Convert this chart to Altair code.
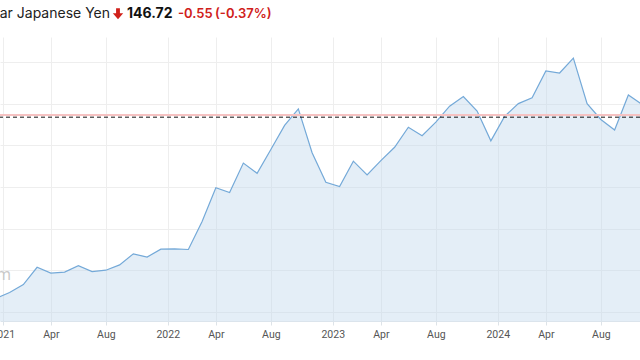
import altair as alt
import pandas as pd

# ---- data (monthly closes, USD/JPY) ----
months = [
    "2020-12",
    "2021-01", "2021-02", "2021-03", "2021-04", "2021-05", "2021-06",
    "2021-07", "2021-08", "2021-09", "2021-10", "2021-11", "2021-12",
    "2022-01", "2022-02", "2022-03", "2022-04", "2022-05", "2022-06",
    "2022-07", "2022-08", "2022-09", "2022-10", "2022-11", "2022-12",
    "2023-01", "2023-02", "2023-03", "2023-04", "2023-05", "2023-06",
    "2023-07", "2023-08", "2023-09", "2023-10", "2023-11", "2023-12",
    "2024-01", "2024-02", "2024-03", "2024-04", "2024-05", "2024-06",
    "2024-07", "2024-08", "2024-09", "2024-10", "2024-11",
]
closes = [
    103.25,
    104.68, 106.58, 110.72, 109.31, 109.58, 111.10,
    109.69, 110.02, 111.29, 113.95, 113.17, 115.08,
    115.12, 114.99, 121.70, 129.80, 128.67, 135.72,
    133.27, 138.96, 144.74, 148.71, 138.20, 131.12,
    130.09, 136.17, 132.86, 136.30, 139.50, 144.31,
    142.29, 145.54, 149.37, 151.68, 148.20, 141.04,
    146.92, 149.98, 151.35, 157.80, 157.31, 160.88,
    149.98, 146.17, 143.63, 152.03, 149.76,
]

title_name = "U.S. Dollar Japanese Yen"
last_price = 146.72
prev_close = 147.27
change_text = "-0.55"
change_pct_text = "(-0.37%)"
watermark_text = "tradingeconomics.com"

tick_pos = [-0.5, 3, 7, 11.5, 15, 19, 23.5, 27, 31, 35.5, 39, 43]
tick_labels = ["2021", "Apr", "Aug", "2022", "Apr", "Aug",
               "2023", "Apr", "Aug", "2024", "Apr", "Aug"]
grid_levels = [100, 110, 120, 130, 140, 150, 160]


def month_index(m):
    y, mo = m.split("-")
    return (int(y) - 2021) * 12 + int(mo) - 1


df = pd.DataFrame({
    "month": months,
    "idx": [month_index(m) for m in months],
    "close": closes,
})

RED = "#d0201a"
GRID = "#eeeeee"

label_expr = "[{}][indexof([{}], datum.value)]".format(
    ",".join("'%s'" % t for t in tick_labels),
    ",".join(str(p) for p in tick_pos),
)

x_scale = alt.Scale(domain=[-0.698, 45.847], nice=False, zero=False)
y_scale = alt.Scale(domain=[97.84, 165.95], nice=False, zero=False)

x_axis = alt.Axis(
    values=tick_pos, labelExpr=label_expr, title=None,
    grid=True, gridColor=GRID, gridWidth=1,
    ticks=True, tickColor="#dde3e8", tickSize=4,
    domain=True, domainColor="#dbe4ec",
    labelFont="Roboto", labelFontSize=10.5, labelColor="#555555",
    labelPadding=4, labelOverlap=False, labelBound=False, labelFlush=False,
)
y_axis = alt.Axis(
    values=grid_levels, title=None, labels=False, ticks=False, domain=False,
    grid=True, gridColor=GRID, gridWidth=1,
)

base = alt.Chart(df).encode(
    x=alt.X("idx:Q", scale=x_scale, axis=x_axis),
    y=alt.Y("close:Q", scale=y_scale, axis=y_axis),
)

area = base.mark_area(color="#bcd5ea", opacity=0.4, clip=True)
line = base.mark_line(color="#74a9d8", strokeWidth=1.2, clip=True)

prev_rule = alt.Chart(pd.DataFrame({"level": [prev_close]})).mark_rule(
    color="#f6c2c2", strokeWidth=2
).encode(y=alt.Y("level:Q", scale=y_scale))

last_rule = alt.Chart(pd.DataFrame({"level": [last_price]})).mark_rule(
    color="#111111", strokeWidth=1, strokeDash=[4, 3]
).encode(y=alt.Y("level:Q", scale=y_scale))

one = pd.DataFrame({"k": [0]})

def header_text(text, x, color, weight, size=14, align="left"):
    return alt.Chart(one).mark_text(
        text=text, align=align, baseline="alphabetic", font="Inter",
        fontSize=size, fontWeight=weight, color=color,
    ).encode(x=alt.value(x), y=alt.value(-18.7))

t_name = header_text(title_name, 110, "#222222", "normal", align="right")
t_price = header_text("%.2f" % last_price, 127, "#111111", "bold")
t_chg = header_text(change_text, 178, RED, 600, size=13)
t_pct = header_text(change_pct_text, 215, RED, 600, size=13)

arrow = alt.Chart(one).mark_point(
    shape="M-0.35,-1L0.35,-1L0.35,-0.1L0.95,-0.1L0,1L-0.95,-0.1L-0.35,-0.1Z",
    filled=True, color=RED, opacity=1, size=120, strokeWidth=0,
).encode(x=alt.value(118), y=alt.value(-23.3))

watermark = alt.Chart(one).mark_text(
    text=watermark_text, align="right", baseline="alphabetic",
    font="Open Sans", fontSize=16, color="#c8c8c8",
).encode(x=alt.value(11), y=alt.value(243))

chart = alt.layer(
    area, line, prev_rule, last_rule, watermark,
    t_name, arrow, t_price, t_chg, t_pct,
).properties(
    width=640, height=284,
    autosize=alt.AutoSizeParams(type="none"),
    padding={"left": 0, "right": 0, "top": 37, "bottom": 39},
    background="white",
).configure_view(stroke=None)

chart.save("out.html", embed_options={"renderer": "svg", "actions": False})
